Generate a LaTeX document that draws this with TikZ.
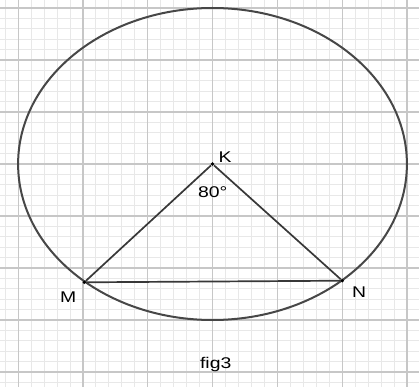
\documentclass[tikz,border=0pt]{standalone}
\usepackage{fontspec}
\setmainfont{Liberation Sans}
\usetikzlibrary{positioning}
\newcommand{\wtext}[1]{\scalebox{1.25}[1]{#1}}

\begin{document}
\begin{tikzpicture}[x=1pt, y=-1pt,
        minorline/.style={draw=black!9, line width=0.8pt},
        majorline/.style={draw=black!22, line width=1.2pt},
        dot/.style={circle, fill=black, inner sep=0pt, minimum size=3.6pt},
        lbl/.style={font=\fontsize{15.5}{17}\selectfont, inner sep=0pt},
        seg/.style={draw=black!78, line width=1.7pt}
    ]
        \useasboundingbox[fill=white] (0,0) rectangle (419,387);

        % Grid
        \foreach \k in {-16,...,15}
            \draw[minorline] (212.5+\k*12.96,0) -- (212.5+\k*12.96,387);
        \foreach \k in {-16,...,21}
            \draw[minorline] (0,164+\k*10.4) -- (419,164+\k*10.4);
        \foreach \k in {-15,-10,...,15}
            \draw[majorline] (212.5+\k*12.96,0) -- (212.5+\k*12.96,387);
        \foreach \k in {-15,-10,...,20}
            \draw[majorline] (0,164+\k*10.4) -- (419,164+\k*10.4);

        % Circle
        \draw[draw=black!72, line width=2pt] (212.5,164) ellipse [x radius=194.4pt, y radius=156pt];

        % Points
        \node[dot] (K) at (212.5,164) {};
        \node[dot] (M) at (84.3,282.3) {};
        \node[dot] (N) at (342.3,280.7) {};

        % Triangle
        \draw[seg] (M) -- (K);
        \draw[seg] (K) -- (N);
        \draw[seg] (N) -- (M);

        % Labels
        \node[lbl] (klabel) at (225,157) {\wtext{K}};
        \node[lbl] (angle) at (212.7,192) {\wtext{80°}};
        \node[lbl] (mlabel) at (68.3,297) {\wtext{M}};
        \node[lbl] (nlabel) at (359,292) {\wtext{N}};
        \node[lbl] (caption) at (215.7,364) {\wtext{fig3}};
    \end{tikzpicture}
\end{document}
